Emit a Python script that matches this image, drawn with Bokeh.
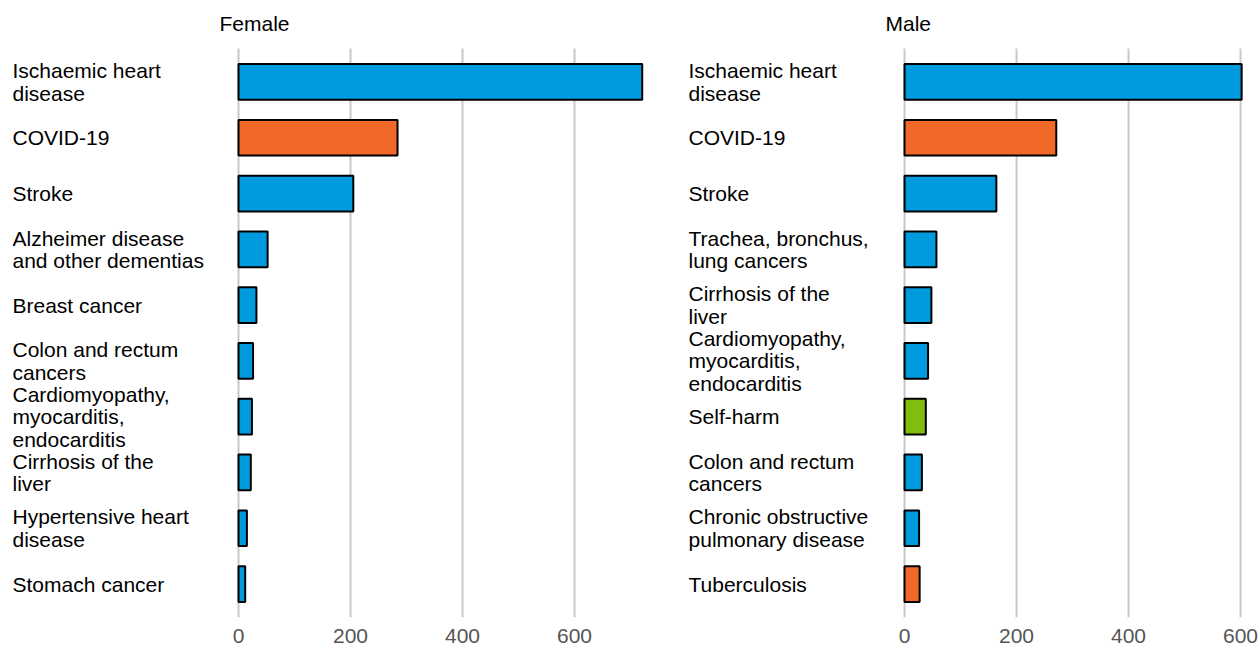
from bokeh.plotting import figure
from bokeh.layouts import row
from bokeh.models import ColumnDataSource, FixedTicker, Range1d
from bokeh.core.properties import value
from bokeh.embed import file_html
from bokeh.resources import INLINE

FONT = "Liberation Sans"

female_causes = [
    "Ischaemic heart\ndisease", "COVID-19", "Stroke",
    "Alzheimer disease\nand other dementias", "Breast cancer",
    "Colon and rectum\ncancers", "Cardiomyopathy,\nmyocarditis,\nendocarditis",
    "Cirrhosis of the\nliver", "Hypertensive heart\ndisease", "Stomach cancer",
]
female_values = [721, 284, 205, 52, 32, 26, 24, 22, 15, 12]
female_groups = ["ncd", "covid", "ncd", "ncd", "ncd", "ncd", "ncd", "ncd", "ncd", "ncd"]

male_causes = [
    "Ischaemic heart\ndisease", "COVID-19", "Stroke",
    "Trachea, bronchus,\nlung cancers", "Cirrhosis of the\nliver",
    "Cardiomyopathy,\nmyocarditis,\nendocarditis", "Self-harm",
    "Colon and rectum\ncancers", "Chronic obstructive\npulmonary disease", "Tuberculosis",
]
male_values = [602, 271, 164, 57, 48, 42, 38, 31, 26, 27]
male_groups = ["ncd", "covid", "ncd", "ncd", "ncd", "ncd", "injury", "ncd", "ncd", "covid"]

ticks = [0, 200, 400, 600]
group_colors = {"ncd": "#009ADE", "covid": "#F26829", "injury": "#7FBD0F"}
EDGE = 0.6  # grid extends this many rows beyond first/last bar centre


def panel(title, causes, values, groups, width, x_start, x_end, border_left,
          border_right, label_offset):
    n = len(causes)
    rows = list(range(n))
    src = ColumnDataSource(dict(
        cause=causes, val=values, row=rows,
        color=[group_colors[g] for g in groups], zero=[0] * n))
    grid_src = ColumnDataSource(dict(
        x=ticks, y0=[-EDGE] * len(ticks), y1=[n - 1 + EDGE] * len(ticks)))
    top = -EDGE - 48 / 55.8
    p = figure(width=width, height=646,
               y_range=Range1d(n - 1 + EDGE, top),
               x_range=Range1d(x_start, x_end),
               output_backend="svg", toolbar_location=None,
               min_border_left=border_left, min_border_right=border_right,
               min_border_top=0, min_border_bottom=29)
    p.outline_line_color = None
    p.background_fill_color = "white"
    p.border_fill_color = "white"
    p.yaxis.visible = False
    p.ygrid.grid_line_color = None
    p.xgrid.grid_line_color = None
    p.xaxis.ticker = FixedTicker(ticks=ticks)
    p.xaxis.axis_line_color = None
    p.xaxis.major_tick_line_color = None
    p.xaxis.minor_tick_line_color = None
    p.xaxis.major_tick_out = 0
    p.xaxis.major_tick_in = 0
    p.xaxis.major_label_standoff = 11
    p.xaxis.major_label_text_font = FONT
    p.xaxis.major_label_text_font_size = "21px"
    p.xaxis.major_label_text_color = "#555555"
    p.segment(x0="x", x1="x", y0="y0", y1="y1", source=grid_src,
              line_color="#C8C8C8", line_width=2)
    p.hbar(y="row", left="zero", right="val", height=0.64, source=src,
           fill_color="color", line_color="#000000", line_width=2)
    p.text(x="zero", y="row", text="cause", source=src, x_offset=label_offset,
           text_align="left", text_baseline="middle",
           text_font=value(FONT), text_font_size="21px", text_color="#000000",
           text_line_height=0.98)
    p.text(x=[0], y=[-EDGE], text=[title], x_offset=-19, y_offset=-25,
           text_align="left", text_baseline="middle",
           text_font=value(FONT), text_font_size="21px", text_color="#000000")
    return p


fp = panel("Female", female_causes, female_values, female_groups,
           width=648, x_start=-403.6, x_end=730.4, border_left=12, border_right=1,
           label_offset=-226)
mp = panel("Male", male_causes, male_values, male_groups,
           width=611, x_start=-392.9, x_end=607.1, border_left=36, border_right=15,
           label_offset=-216)

layout = row(fp, mp)
open("out.html", "w").write(file_html(layout, INLINE))
